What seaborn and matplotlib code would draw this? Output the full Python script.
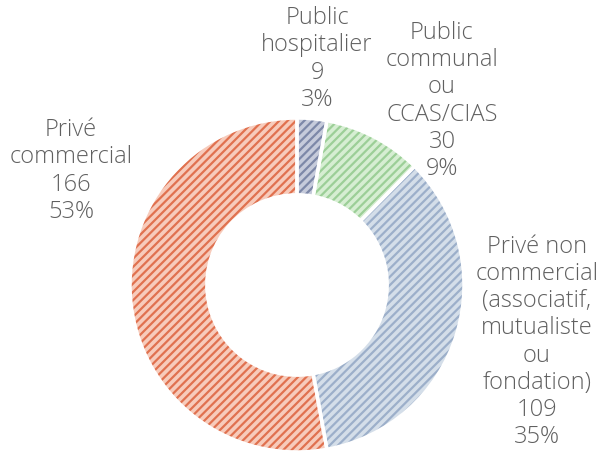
import matplotlib
matplotlib.use("Agg")
import matplotlib.pyplot as plt
import seaborn as sns

# Établissements par statut juridique
categories = [
    "Public\nhospitalier",
    "Public\ncommunal\nou\nCCAS/CIAS",
    "Privé non\ncommercial\n(associatif,\nmutualiste\nou\nfondation)",
    "Privé\ncommercial",
]
counts = [9, 30, 109, 166]
percents = [3, 9, 35, 53]

sns.set_theme(style="white")
plt.rcParams["font.family"] = ["Open Sans", "DejaVu Sans"]
plt.rcParams["hatch.linewidth"] = 1.6

fill_colors = ["#c6cbdb", "#d6eed2", "#d4dee9", "#f7cbbb"]
stripe_colors = ["#7d88a8", "#9ccf97", "#9cafca", "#e0714f"]

W, H = 602, 457
fig = plt.figure(figsize=(W / 100, H / 100), dpi=100)
ax = fig.add_axes([0, 0, 1, 1])

center = (297, H - 285)
radius = 167
ring = dict(width=radius * 0.46)

common = dict(startangle=90, counterclock=False, center=center, radius=radius)

# base fill
wedges, _ = ax.pie(counts, colors=fill_colors, wedgeprops=dict(**ring, linewidth=0), **common)
# diagonal stripes
stripes, _ = ax.pie(counts, colors=["none"] * 4, wedgeprops=dict(**ring, linewidth=0), **common)
for w, c in zip(stripes, stripe_colors):
    w.set_facecolor("none")
    w.set_edgecolor(c)
    w.set_hatch("////")
    w.set_linewidth(0)
# white separators
seps, _ = ax.pie(counts, colors=["none"] * 4,
                 wedgeprops=dict(**ring, edgecolor="white", linewidth=2.5), **common)
for w in seps:
    w.set_facecolor("none")

ax.set_xlim(0, W)
ax.set_ylim(0, H)
ax.set_aspect("equal")
ax.axis("off")

label_pos = [(317, 59), (442, 101), (537, 342), (71, 171)]
for name, n, p, (x, y) in zip(categories, counts, percents, label_pos):
    ax.text(x, H - y, f"{name}\n{n}\n{p}%", ha="center", va="center",
            multialignment="center", fontsize=17, color="#606060",
            fontweight="light", linespacing=1.17)

fig.savefig("out.png", dpi=100)
